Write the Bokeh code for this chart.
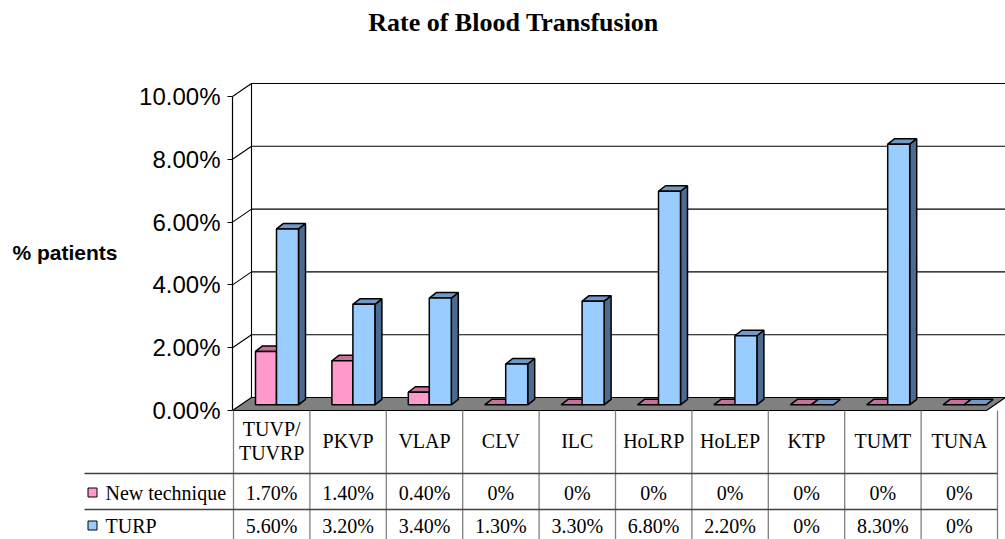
from bokeh.plotting import figure
from bokeh.models import FixedTicker, PrintfTickFormatter, Range1d
from bokeh.core.properties import value
from bokeh.embed import file_html
from bokeh.resources import INLINE

# ---------------- data ----------------
categories = ["TUVP/\nTUVRP", "PKVP", "VLAP", "CLV", "ILC", "HoLRP", "HoLEP", "KTP", "TUMT", "TUNA"]
series_names = ["New technique", "TURP"]
new_technique = [1.7, 1.4, 0.4, 0.0, 0.0, 0.0, 0.0, 0.0, 0.0, 0.0]
turp = [5.6, 3.2, 3.4, 1.3, 3.3, 6.8, 2.2, 0.0, 8.3, 0.0]
series_colors = ["#FF99CC", "#99CCFF"]
y_ticks = [0, 2, 4, 6, 8, 10]
title_text = "Rate of Blood Transfusion"
y_label = "% patients"


def pct(v):
    return "0%" if v == 0 else f"{v:.2f}%"


# ---------------- layout (canvas pixels -> data units) ----------------
W, H = 1005, 539
PXX = 76.4          # px per category column
PXY = 31.4          # px per 1 %
X0 = 233            # canvas x of the left edge of the first category column
Y0 = 410            # canvas y of 0 % on the front axis


def X(px):
    return (px - X0) / PXX


def Y(py):
    return (Y0 - py) / PXY


DXW, DYW = 19 / PXX, 13 / PXY      # depth of floor / back wall
DXB, DYB = 7 / PXX, 5.5 / PXY      # depth of each bar
BASE = 5.7 / PXY                   # bars stand mid-depth on the floor
PINK_L, PINK_R = 22 / PXX, 43 / PXX
BLUE_L, BLUE_R = 43 / PXX, 65 / PXX

SERIF = value("Liberation Serif")
SANS = value("Liberation Sans")

p = figure(width=W, height=H, x_range=Range1d(X(0), X(W)), y_range=Range1d(Y(H), Y(0)),
           min_border_left=0, min_border_right=0, min_border_top=0, min_border_bottom=0,
           x_axis_location=None, y_axis_location="left",
           output_backend="svg", toolbar_location=None, outline_line_color=None,
           background_fill_color="white", border_fill_color="white")
p.xgrid.visible = False
p.ygrid.visible = False

ax = p.yaxis[0]
ax.fixed_location = X(232)
ax.ticker = FixedTicker(ticks=y_ticks)
ax.bounds = (y_ticks[0], y_ticks[-1])
ax.formatter = PrintfTickFormatter(format="%.2f%%")
ax.major_label_text_font = "Liberation Sans"
ax.major_label_text_font_size = "24px"
ax.major_label_text_color = "black"
ax.major_label_standoff = 7
ax.major_tick_out = 5
ax.major_tick_in = 0
ax.minor_tick_out = 0
ax.minor_tick_in = 0
ax.axis_line_color = "black"
ax.axis_line_width = 1.2
ax.major_tick_line_color = "black"

# axis title (horizontal, left of the tick labels)
p.text(x=[X(12)], y=[Y(252)], text=[y_label], text_font=SANS, text_font_style="bold",
       text_font_size="21px", text_align="left", text_baseline="middle", text_color="black")

# chart title
p.text(x=[X(513)], y=[Y(22)], text=[title_text], text_font=SERIF, text_font_style="bold",
       text_font_size="26px", text_align="center", text_baseline="middle", text_color="black")

# floor
xl, xr = X(232), X(W) - DXW
p.patch([xl, xr, xr + DXW, xl + DXW], [0, 0, DYW, DYW],
        fill_color="#808080", line_color="black", line_width=1.2)

# back wall grid
gx, gy = [], []
for t in y_ticks[1:]:
    gx.append([xl + DXW, X(W)])
    gy.append([t + DYW, t + DYW])
    gx.append([xl, xl + DXW])
    gy.append([t, t + DYW])
gx.append([xl + DXW, xl + DXW])
gy.append([DYW, y_ticks[-1] + DYW])
p.multi_line(gx, gy, line_color="black", line_width=1.1)


def draw_bars(vals, left, right, front, top, side):
    sx, sy, tx, ty = [], [], [], []
    fl, fr, ft = [], [], []
    for i, v in enumerate(vals):
        a, b = i + left, i + right
        h = BASE + v
        tx.append([a, b, b + DXB, a + DXB])
        ty.append([h, h, h + DYB, h + DYB])
        if v > 0:
            sx.append([b, b + DXB, b + DXB, b])
            sy.append([BASE, BASE + DYB, h + DYB, h])
            fl.append(a)
            fr.append(b)
            ft.append(h)
    p.patches(sx, sy, fill_color=side, line_color="black", line_width=1.5)
    p.patches(tx, ty, fill_color=top, line_color="black", line_width=1.5)
    p.quad(left=fl, right=fr, bottom=BASE, top=ft, fill_color=front, line_color="black", line_width=1.5)


draw_bars(new_technique, PINK_L, PINK_R, series_colors[0], "#C8709C", "#99507A")
draw_bars(turp, BLUE_L, BLUE_R, series_colors[1], "#7099C8", "#4D6A8F")

# ---------------- data table ----------------
n = len(categories)
p.multi_line([[k, k] for k in range(n + 1)], [[Y(Y0), Y(H)] for _ in range(n + 1)],
             line_color="#808080", line_width=1.3)
p.multi_line([[X(84), n], [X(84), n]], [[Y(473), Y(473)], [Y(509), Y(509)]],
             line_color="#404040", line_width=1.3)

cat_x, cat_y, cat_t = [], [], []
for i, c in enumerate(categories):
    lines = c.split("\n")
    for k, s in enumerate(lines):
        cat_x.append(i + 0.5)
        cat_y.append(Y(440 + (k - (len(lines) - 1) / 2) * 24))
        cat_t.append(s)
p.text(x=cat_x, y=cat_y, text=cat_t, text_font=SERIF, text_font_size="20px",
       text_align="center", text_baseline="middle", text_color="black")

cx = [i + 0.5 for i in range(n)]
row_mid = [Y(492), Y(525)]
for r, vals in enumerate([new_technique, turp]):
    p.text(x=cx, y=[row_mid[r]] * n, text=[pct(v) for v in vals], text_font=SERIF,
           text_font_size="20px", text_align="center", text_baseline="middle", text_color="black")

p.text(x=[X(105)] * 2, y=row_mid, text=series_names, text_font=SERIF,
       text_font_size="20px", text_align="left", text_baseline="middle", text_color="black")
p.scatter(x=[X(92)] * 2, y=row_mid, marker="square", size=9,
          fill_color=series_colors, line_color="black", line_width=1)

open("out.html", "w").write(file_html(p, INLINE))
